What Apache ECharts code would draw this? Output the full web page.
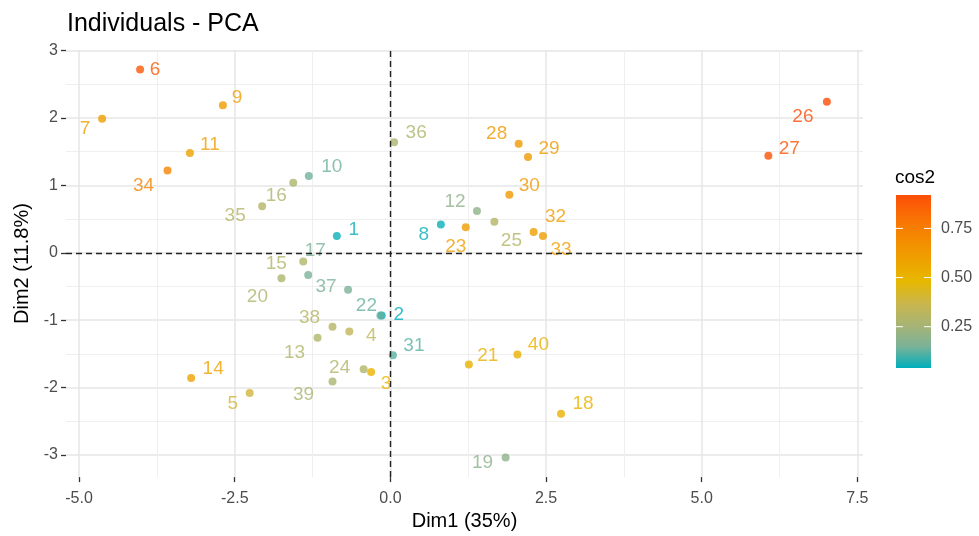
<!DOCTYPE html>
<html><head><meta charset="utf-8">
<script src="https://cdn.jsdelivr.net/npm/echarts@6/dist/echarts.min.js"></script>
<style>html,body{margin:0;padding:0;background:#fff}#c{width:979px;height:536px}</style>
</head><body><div id="c"></div>
<script>
// ---- data ----
const ids  = ['1','2','3','4','5','6','7','8','9','10','11','12','13','14','15','16','17','18','19','20',
              '21','22','23','24','25','26','27','28','29','30','31','32','33','34','35','36','37','38','39','40'];
const dim1 = [-0.86,-0.14,-0.31,-0.66,-2.26,-4.02,-4.63,0.81,-2.69,-1.31,-3.22,1.39,-1.17,-3.20,-1.40,-1.56,-1.32,2.74,1.85,-1.75,
              1.26,-0.16,1.21,-0.43,1.67,7.01,6.07,2.06,2.21,1.91,0.04,2.30,2.45,-3.58,-2.06,0.06,-0.68,-0.93,-0.93,2.04];
const dim2 = [0.25,-0.93,-1.77,-1.17,-2.08,2.72,1.99,0.42,2.19,1.14,1.48,0.62,-1.26,-1.86,-0.13,1.04,-0.33,-2.39,-3.04,-0.38,
              -1.66,-0.93,0.38,-1.73,0.46,2.24,1.44,1.62,1.42,0.86,-1.52,0.31,0.25,1.22,0.69,1.64,-0.55,-1.10,-1.91,-1.51];
const cos2 = [0.05,0.04,0.50,0.34,0.39,0.89,0.61,0.05,0.61,0.14,0.60,0.20,0.29,0.58,0.29,0.28,0.15,0.52,0.19,0.28,
              0.52,0.13,0.61,0.29,0.30,0.92,0.90,0.63,0.62,0.63,0.12,0.61,0.61,0.72,0.30,0.28,0.15,0.30,0.27,0.52];
const xTicks = [-5, -2.5, 0, 2.5, 5, 7.5];
const xMinor = [-3.75, -1.25, 1.25, 3.75, 6.25];
const yTicks = [-3, -2, -1, 0, 1, 2, 3];
const yMinor = [-2.5, -1.5, -0.5, 0.5, 1.5, 2.5];
const legendTicks = [0.25, 0.5, 0.75];

// ---- layout / style (not data) ----
const labelOffsets = [[17,-6],[17,-1],[15,12],[22,4],[-17,11],[15,0],[-17,10],[-17,10],[14,-7],[23,-9],
  [20,-8],[-22,-9],[-23,15],[22,-9],[-27,2],[-17,13],[7,-24],[22,-10],[-23,5],[-24,18],
  [19,-9],[-14,-10],[-10,20],[-24,-2],[17,19],[-24,15],[21,-7],[-22,-10],[21,-8],[20,-9],
  [21,-9],[22,-15],[18,14],[-24,15],[-27,9],[22,-10],[-22,-3],[-23,-9],[-29,13],[21,-10]];
const palette = ['#00AFBB','#7BB298','#A8B474','#CAB64C','#E7B800','#EEA100','#F48A01','#F96F04','#FC4E07'];
const FONT = 'Liberation Sans, Arial, sans-serif';
const xRange = [-5.21, 7.59], yRange = [-3.33, 3.01];
const cMin = Math.min(...cos2), cMax = Math.max(...cos2);
const bar = {x: 896, y: 195, w: 35, h: 173};

const chart = echarts.init(document.getElementById('c'), null, {renderer: 'canvas'});

const legendEls = [];
legendEls.push({type: 'text', left: 895, top: 168, style: {text: 'cos2', fontSize: 19, fontFamily: FONT, fill: '#000'}});
legendEls.push({type: 'rect', shape: {x: bar.x, y: bar.y, width: bar.w, height: bar.h},
  style: {fill: new echarts.graphic.LinearGradient(0, 0, 0, 1,
    palette.slice().reverse().map((c, i) => ({offset: i / (palette.length - 1), color: c})))}});
legendTicks.forEach(v => {
  const y = bar.y + (cMax - v) / (cMax - cMin) * bar.h;
  legendEls.push({type: 'line', shape: {x1: bar.x, y1: y, x2: bar.x + 7, y2: y}, style: {stroke: '#fff', lineWidth: 1}});
  legendEls.push({type: 'line', shape: {x1: bar.x + bar.w - 7, y1: y, x2: bar.x + bar.w, y2: y}, style: {stroke: '#fff', lineWidth: 1}});
  legendEls.push({type: 'text', x: 941, y: y, style: {text: v.toFixed(2), fontSize: 16, fontFamily: FONT, fill: '#4D4D4D', verticalAlign: 'middle'}});
});

const gridLine = {color: '#E6E6E6', width: 1.5};
const minorLine = {color: '#EFEFEF', width: 1};

chart.setOption({
  animation: false,
  backgroundColor: '#fff',
  title: {text: 'Individuals - PCA', left: 67, top: 12, padding: 0,
    textStyle: {fontSize: 25, fontWeight: 'normal', color: '#000', fontFamily: FONT}},
  grid: {left: 66, right: 116, top: 50, bottom: 56},
  visualMap: {show: false, type: 'continuous', dimension: 2, seriesIndex: 0, min: cMin, max: cMax,
    inRange: {color: palette}},
  graphic: legendEls,
  xAxis: [
    {type: 'value', min: xRange[0], max: xRange[1], position: 'bottom',
     axisLine: {show: false, onZero: false},
     axisTick: {show: true, length: 5, customValues: xTicks, lineStyle: {color: '#333', width: 1.3}},
     axisLabel: {customValues: xTicks, formatter: v => v.toFixed(1), color: '#4D4D4D', fontSize: 16, margin: 13, fontFamily: FONT},
     splitLine: {show: true, lineStyle: gridLine},
     name: 'Dim1 (35%)', nameLocation: 'middle', nameGap: 31,
     nameTextStyle: {color: '#000', fontSize: 20, fontFamily: FONT}},
    {type: 'value', min: xRange[0], max: xRange[1], position: 'bottom',
     axisLine: {show: false, onZero: false}, axisTick: {show: false, customValues: xMinor}, axisLabel: {show: false},
     splitLine: {show: true, lineStyle: minorLine}}
  ],
  yAxis: [
    {type: 'value', min: yRange[0], max: yRange[1], position: 'left',
     axisLine: {show: false, onZero: false},
     axisTick: {show: true, length: 5, customValues: yTicks, lineStyle: {color: '#333', width: 1.3}},
     axisLabel: {customValues: yTicks, formatter: v => String(v), color: '#4D4D4D', fontSize: 16, margin: 8, fontFamily: FONT},
     splitLine: {show: true, lineStyle: gridLine},
     name: 'Dim2 (11.8%)', nameLocation: 'middle', nameGap: 33, nameRotate: 90,
     nameTextStyle: {color: '#000', fontSize: 20, fontFamily: FONT}},
    {type: 'value', min: yRange[0], max: yRange[1], position: 'left',
     axisLine: {show: false, onZero: false}, axisTick: {show: false, customValues: yMinor}, axisLabel: {show: false},
     splitLine: {show: true, lineStyle: minorLine}}
  ],
  series: [{
    type: 'scatter', xAxisIndex: 0, yAxisIndex: 0, symbolSize: 8,
    data: ids.map((id, i) => ({name: id, value: [dim1[i], dim2[i], cos2[i]], label: {offset: labelOffsets[i]}})),
    label: {show: true, position: 'inside', formatter: '{b}', fontSize: 19, fontFamily: FONT,
      color: 'inherit', textBorderWidth: 0},
    emphasis: {disabled: true},
    markLine: {silent: true, symbol: 'none', label: {show: false},
      lineStyle: {color: '#222', type: [6, 4], width: 1.4},
      data: [{xAxis: 0}, {yAxis: 0}]}
  }]
});
</script></body></html>
